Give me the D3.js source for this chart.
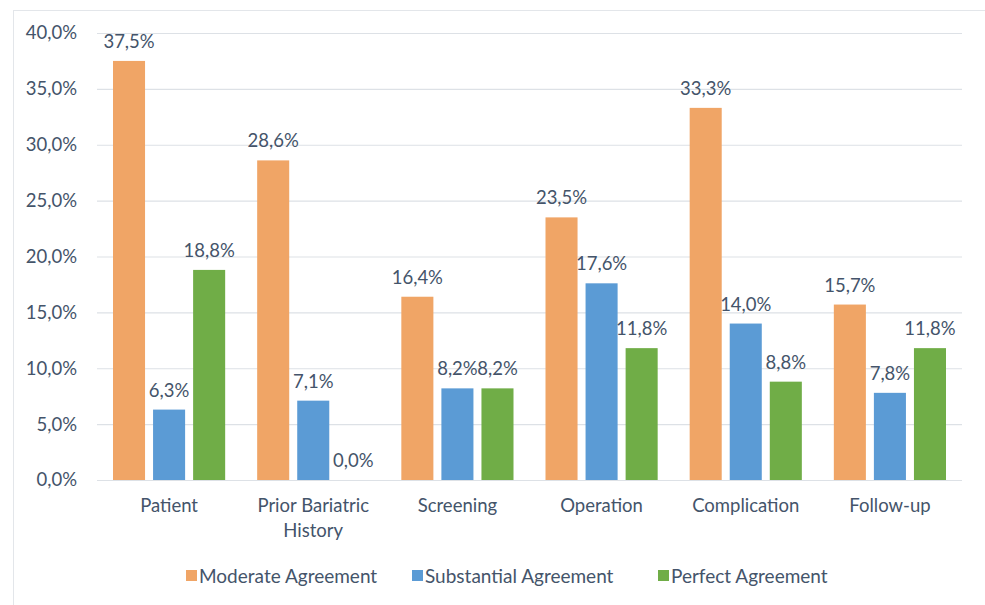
<!DOCTYPE html>
<html><head><meta charset="utf-8">
<script src="https://cdn.jsdelivr.net/npm/d3@7"></script>
<style>body{margin:0;background:#fff;} text{font-family:Lato,"Open Sans",sans-serif;}</style>
</head><body><svg id="c" width="985" height="605"></svg>
<script>
const categories = ["Patient", "Prior Bariatric History", "Screening", "Operation", "Complication", "Follow-up"];
const categoryLines = [["Patient"], ["Prior Bariatric", "History"], ["Screening"], ["Operation"], ["Complication"], ["Follow-up"]];
const seriesNames = ["Moderate Agreement", "Substantial Agreement", "Perfect Agreement"];
const moderate = [37.5, 28.6, 16.4, 23.5, 33.3, 15.7];
const substantial = [6.3, 7.1, 8.2, 17.6, 14.0, 7.8];
const perfect = [18.8, 0.0, 8.2, 11.8, 8.8, 11.8];
const yTicks = [0, 5, 10, 15, 20, 25, 30, 35, 40];
const colors = ["#F0A566", "#5B9BD5", "#70AD47"];

const svg = d3.select("#c");
const textColor = "#44546A";
const fs = "18.5px";
svg.append("rect").attr("x",13.5).attr("y",10.5).attr("width",990).attr("height",600)
  .attr("fill","none").attr("stroke","#e3e6ea");

const mLeft = 97, mRight = 962, mTop = 33, mBottom = 480;
const x0 = d3.scaleBand().domain(categories).range([mLeft, mRight]).paddingInner(0).paddingOuter(0);
const x1 = d3.scaleBand().domain(seriesNames).range([16, x0.bandwidth()-16]).paddingInner(0.2);
const y = d3.scaleLinear().domain([0, 40]).range([mBottom, mTop]);
const fmt = v => v.toFixed(1).replace(".", ",") + "%";

svg.append("g").selectAll("line").data(yTicks).join("line")
  .attr("x1", mLeft).attr("x2", mRight).attr("y1", d=>y(d)+0.5).attr("y2", d=>y(d)+0.5)
  .attr("stroke", "#dde1e6").attr("stroke-width", 1.2);

const yAxis = d3.axisLeft(y).tickValues(yTicks).tickFormat(fmt).tickSize(0).tickPadding(20);
const ya = svg.append("g").attr("transform", `translate(${mLeft},0)`).call(yAxis);
ya.select(".domain").remove();
ya.selectAll("text").attr("fill", textColor).style("font-size",fs).style("font-family","Lato");

const series = [moderate, substantial, perfect];
series.forEach((vals, si) => {
  const g = svg.append("g");
  g.selectAll("rect").data(vals).join("rect")
    .attr("x", (d,i)=> x0(categories[i]) + x1(seriesNames[si]))
    .attr("y", d=>y(d)).attr("width", x1.bandwidth()).attr("height", d=>y(0)-y(d))
    .attr("fill", colors[si]);
  g.selectAll("text").data(vals).join("text")
    .attr("x", (d,i)=> x0(categories[i]) + x1(seriesNames[si]) + x1.bandwidth()/2)
    .attr("y", d=>y(d)-13).attr("text-anchor","middle")
    .attr("fill", textColor).style("font-size",fs)
    .text(d=>fmt(d));
});

const xa = svg.append("g");
categories.forEach((c,i)=>{
  const t = xa.append("text").attr("x", x0(c)+x0.bandwidth()/2).attr("y", 512)
    .attr("text-anchor","middle").attr("fill", textColor).style("font-size",fs);
  categoryLines[i].forEach((ln,j)=>{
    t.append("tspan").attr("x", x0(c)+x0.bandwidth()/2).attr("dy", j===0?0:25).text(ln);
  });
});

const legX = [186, 412, 658];
const lg = svg.append("g");
seriesNames.forEach((s,i)=>{
  lg.append("rect").attr("x", legX[i]).attr("y", 570).attr("width", 11).attr("height", 11).attr("fill", colors[i]);
  lg.append("text").attr("x", legX[i]+13).attr("y", 582.5).attr("fill", textColor).style("font-size","19px").text(s);
});
</script></body></html>
